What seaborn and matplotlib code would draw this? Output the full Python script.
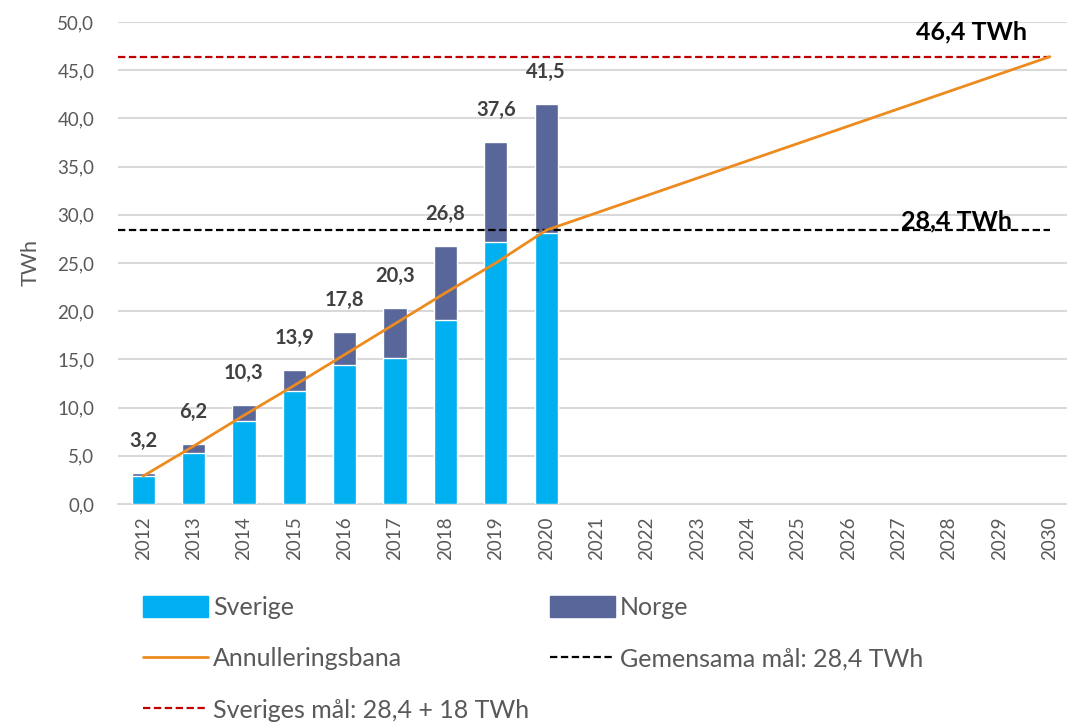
import numpy as np
import pandas as pd
import matplotlib
matplotlib.use("Agg")
import matplotlib.pyplot as plt
import seaborn as sns
from matplotlib.patches import Patch
from matplotlib.lines import Line2D

# data
years = [str(y) for y in range(2012, 2031)]
bar_years = [str(y) for y in range(2012, 2021)]
totals = [3.2, 6.2, 10.3, 13.9, 17.8, 20.3, 26.8, 37.6, 41.5]
sverige = [2.9, 5.3, 8.6, 11.7, 14.4, 15.1, 19.1, 27.2, 28.1]
annullering = [2.9, 6.0, 9.2, 12.3, 15.5, 18.7, 21.9, 25.0, 28.4,
               30.2, 32.0, 33.8, 35.6, 37.4, 39.2, 41.0, 42.8, 44.6, 46.4]
gemensamt_mal = 28.4
sveriges_mal = 46.4

C_SVE = "#00B0F0"
C_NOR = "#58669A"
C_ORANGE = "#ED8B1F"
C_RED = "#C00000"
C_TXT = "#595959"
DASH = (0, (3.3, 1.6))

sns.set_theme(style="white")
plt.rcParams['font.family'] = ['Lato', 'DejaVu Sans']

fig = plt.figure(figsize=(10.67, 7.24), dpi=100)
ax = fig.add_axes([118 / 1067, 1 - 504 / 724, 957 / 1067, 482 / 724])

df = pd.DataFrame({"year": bar_years, "total": totals, "sverige": sverige})
# Norge stacked on top of Sverige: draw totals first, Sverige over it
sns.barplot(data=df, x="year", y="total", order=years, color=C_NOR,
            saturation=1, width=0.46, ax=ax, zorder=2)
sns.barplot(data=df, x="year", y="sverige", order=years, color=C_SVE,
            saturation=1, width=0.46, ax=ax, zorder=3)

pos = [years.index(y) for y in years]
sns.lineplot(x=pos, y=annullering, color=C_ORANGE, linewidth=2, ax=ax, zorder=5)

ax.hlines(gemensamt_mal, -0.5, len(years) - 1, colors="black", linestyles=DASH,
          linewidth=1.6, zorder=4)
ax.hlines(sveriges_mal, -0.5, len(years) - 1, colors=C_RED, linestyles=DASH,
          linewidth=1.6, zorder=4)

for i, t in enumerate(totals):
    ax.annotate(f"{t:.1f}".replace(".", ","), (i, t), xytext=(0, 23),
                textcoords="offset points", ha="center", va="center",
                fontsize=14.5, fontweight="bold", color="#404040")

ax.text(len(years) - 2.55, 48.15, "46,4 TWh", ha="center", va="baseline",
        fontsize=18, fontweight="bold", color="black")
ax.text(len(years) - 2.85, 28.55, "28,4 TWh", ha="center", va="baseline",
        fontsize=18, fontweight="bold", color="black")

ax.set_xlim(-0.5, len(years) - 0.5)
ax.set_ylim(0, 50)
ax.set_yticks(np.arange(0, 51, 5))
ax.set_yticklabels([f"{v:.1f}".replace(".", ",") for v in np.arange(0, 51, 5)])
ax.tick_params(axis="y", labelsize=13.5, colors=C_TXT, length=0, pad=17)
ax.tick_params(axis="x", labelsize=13.5, colors=C_TXT, length=0, rotation=90, pad=9)
ax.grid(axis="y", color="#D9D9D9", linewidth=1.5, zorder=0)
ax.set_axisbelow(True)
for s in ["top", "right", "left"]:
    ax.spines[s].set_visible(False)
ax.spines["bottom"].set_color("#D9D9D9")
ax.spines["bottom"].set_linewidth(1.5)
ax.set_xlabel("")
ax.set_ylabel("TWh", fontsize=15.5, color=C_TXT, labelpad=12)

col1 = [
    Patch(color=C_SVE, label="Sverige"),
    Line2D([], [], color=C_ORANGE, lw=2, label="Annulleringsbana"),
    Line2D([], [], color=C_RED, lw=1.6, ls=DASH, label="Sveriges mål: 28,4 + 18 TWh"),
]
col2 = [
    Patch(color=C_NOR, label="Norge"),
    Line2D([], [], color="black", lw=1.6, ls=DASH, label="Gemensama mål: 28,4 TWh"),
]
leg_kw = dict(loc="upper left", frameon=False, fontsize=18, handlelength=2.6,
              handleheight=0.9, handletextpad=0.2, labelspacing=1.13, borderpad=0,
              borderaxespad=0)
for handles, x0 in [(col1, 143), (col2, 550)]:
    leg = fig.legend(handles=handles, bbox_to_anchor=(x0 / 1067, 1 - 596 / 724), **leg_kw)
    for t in leg.get_texts():
        t.set_color(C_TXT)

fig.savefig("out.png", dpi=100)
